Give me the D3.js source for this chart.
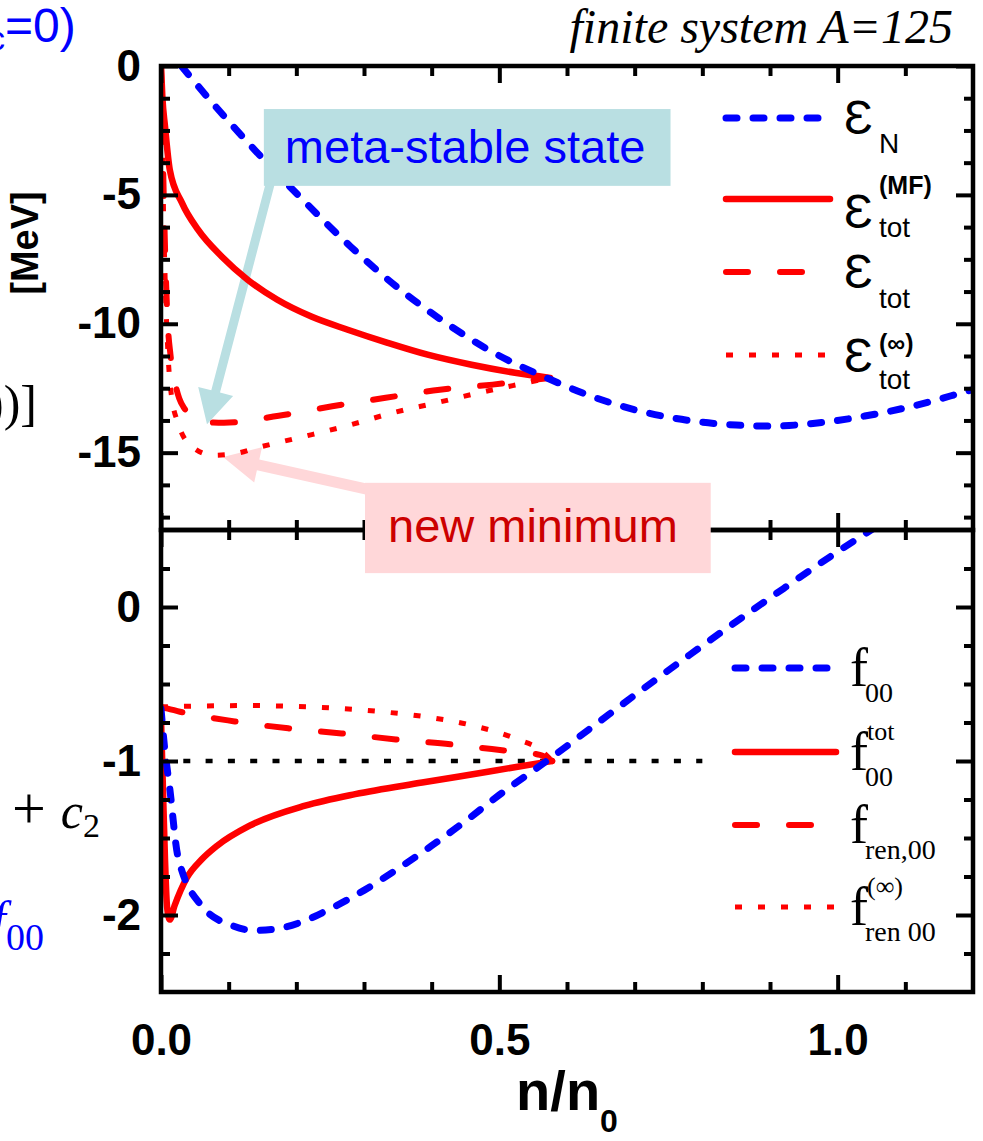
<!DOCTYPE html>
<html>
<head>
<meta charset="utf-8">
<script src="https://cdn.jsdelivr.net/npm/d3@7"></script>
<style>
  body { margin: 0; background: #fff; }
  svg { display: block; }
  text { font-family: "Liberation Sans", Arial, sans-serif; }
</style>
</head>
<body>
<div id="chart"></div>
<script>
// ---- data ----
// upper panel: energies [MeV] vs n/n0
var eNn = [0.03, 0.075, 0.14, 0.21, 0.28, 0.35, 0.42, 0.49, 0.57, 0.64, 0.71, 0.78, 0.85, 0.9, 0.97, 1.04, 1.11, 1.18, 1.2];
var eNv = [0, -1.4, -3.3, -5.2, -7.0, -8.6, -9.95, -11.1, -12.1, -12.85, -13.4, -13.75, -13.93, -13.97, -13.85, -13.58, -13.2, -12.7, -12.55];

var eMFn = [0, 0.002, 0.006, 0.013, 0.031, 0.055, 0.09, 0.128, 0.172, 0.223, 0.276, 0.335, 0.394, 0.459, 0.523, 0.575];
var eMFv = [0, -1.2, -2.36, -4.03, -5.31, -6.36, -7.4, -8.29, -9.07, -9.73, -10.23, -10.74, -11.2, -11.59, -11.9, -12.1];

var eTotn = [0, 0.002, 0.004, 0.007, 0.01, 0.014, 0.02, 0.027, 0.035, 0.05, 0.07, 0.093, 0.174, 0.253, 0.332, 0.412, 0.49, 0.575];
var eTotv = [0, -2.5, -5, -8, -10, -11.2, -12.2, -12.9, -13.3, -13.65, -13.82, -13.84, -13.57, -13.2, -12.87, -12.56, -12.36, -12.1];

var eInfn = [0, 0.002, 0.004, 0.007, 0.01, 0.015, 0.025, 0.046, 0.077, 0.109, 0.143, 0.21, 0.276, 0.343, 0.408, 0.476, 0.54, 0.575];
var eInfv = [0, -3, -6, -9, -11, -12.7, -13.84, -14.77, -15.1, -15.04, -14.8, -14.38, -13.95, -13.45, -13.06, -12.64, -12.29, -12.1];

// lower panel: Landau parameters vs n/n0
var f00n = [0, 0.005, 0.013, 0.025, 0.06, 0.106, 0.136, 0.171, 0.205, 0.25, 0.3, 0.35, 0.4, 0.45, 0.5, 0.57, 0.64, 0.71, 0.78, 0.85, 0.92, 0.99, 1.06, 1.1];
var f00v = [-0.66, -0.9, -1.18, -1.62, -1.94, -2.07, -2.1, -2.09, -2.05, -1.96, -1.84, -1.7, -1.55, -1.39, -1.22, -1.0, -0.77, -0.54, -0.315, -0.095, 0.12, 0.33, 0.53, 0.64];

var fTotn = [0, 0.003, 0.006, 0.009, 0.013, 0.02, 0.038, 0.06, 0.083, 0.131, 0.213, 0.287, 0.386, 0.483, 0.578];
var fTotv = [-0.72, -1.2, -1.65, -1.95, -2.03, -1.94, -1.76, -1.64, -1.55, -1.42, -1.29, -1.215, -1.14, -1.07, -1.0];

var fRenn = [0, 0.01, 0.028, 0.109, 0.188, 0.267, 0.347, 0.428, 0.507, 0.56, 0.578];
var fRenv = [-0.65, -0.66, -0.68, -0.743, -0.788, -0.821, -0.86, -0.892, -0.932, -0.96, -1.0];

var fInfn = [0, 0.01, 0.062, 0.128, 0.195, 0.26, 0.326, 0.394, 0.461, 0.527, 0.563, 0.578];
var fInfv = [-0.65, -0.648, -0.643, -0.64, -0.645, -0.658, -0.68, -0.715, -0.77, -0.86, -0.935, -1.0];

var refLineN = [0, 0.8];
var refLineV = [-1, -1];

// ticks
var xMajor = [0, 0.5, 1.0];
var xMinor = [0.1, 0.2, 0.3, 0.4, 0.6, 0.7, 0.8, 0.9, 1.1];
var topMajor = [0, -5, -10, -15];
var topMinor = [-1.25, -2.5, -3.75, -6.25, -7.5, -8.75, -11.25, -12.5, -13.75, -16.25, -17.5];
var botMajor = [0, -1, -2];
var botMinor = [0.25, -0.25, -0.5, -0.75, -1.25, -1.5, -1.75, -2.25];

// ---- chart ----
var svg = d3.select("#chart").append("svg")
  .attr("width", 983)
  .attr("height", 1141);

var left = 161, right = 973, top0 = 66, mid = 530, bottom = 992;

var xScale = d3.scaleLinear().domain([0, 1.2]).range([left, right]);
var yTop = d3.scaleLinear().domain([-18, 0]).range([mid, top0]);
var yBot = d3.scaleLinear().domain([-2.5, 0.5]).range([bottom, mid]);

var defs = svg.append("defs");
defs.append("clipPath").attr("id", "clipTop").append("rect")
  .attr("x", left).attr("y", top0).attr("width", right - left).attr("height", mid - top0);
defs.append("clipPath").attr("id", "clipBot").append("rect")
  .attr("x", left).attr("y", mid).attr("width", right - left).attr("height", bottom - mid);

function zip(a, b) { return a.map(function(d, i) { return [d, b[i]]; }); }

var styles = {
  blue:   { stroke: "#0000ff", width: 7, dash: "11,16", cap: "round" },
  solid:  { stroke: "#ff0000", width: 6.5, dash: null, cap: "round" },
  dashed: { stroke: "#ff0000", width: 6, dash: "22,32", cap: "round" },
  dotted: { stroke: "#ff0000", width: 5, dash: "7,16", cap: "butt" },
  black:  { stroke: "#000000", width: 4.5, dash: "7,15.3", cap: "butt" }
};

var topSeries = [
  { pts: zip(eInfn, eInfv), st: "dotted" },
  { pts: zip(eTotn, eTotv), st: "dashed" },
  { pts: zip(eMFn, eMFv), st: "solid" },
  { pts: zip(eNn, eNv), st: "blue" }
];
var botSeries = [
  { pts: zip(refLineN, refLineV), st: "black", linear: true },
  { pts: zip(fInfn, fInfv), st: "dotted" },
  { pts: zip(fRenn, fRenv), st: "dashed" },
  { pts: zip(fTotn, fTotv), st: "solid" },
  { pts: zip(f00n, f00v), st: "blue" }
];

// annotation arrows go under the curves
function arrowPath(sx, sy, tx, ty, shaftW, headL, headW) {
  var dx = tx - sx, dy = ty - sy, L = Math.sqrt(dx * dx + dy * dy);
  var ux = dx / L, uy = dy / L, nx = -uy, ny = ux;
  var bx = tx - ux * headL, by = ty - uy * headL;
  var p = [
    [sx + nx * shaftW / 2, sy + ny * shaftW / 2],
    [bx + nx * shaftW / 2, by + ny * shaftW / 2],
    [bx + nx * headW / 2, by + ny * headW / 2],
    [tx, ty],
    [bx - nx * headW / 2, by - ny * headW / 2],
    [bx - nx * shaftW / 2, by - ny * shaftW / 2],
    [sx - nx * shaftW / 2, sy - ny * shaftW / 2]
  ];
  return "M" + p.map(function(q) { return q[0].toFixed(1) + "," + q[1].toFixed(1); }).join("L") + "Z";
}

var teal = "#b9dfe2", pink = "#ffd7d9";
svg.append("path")
  .attr("d", arrowPath(xScale(0.162), yTop(-4.5), xScale(0.068), yTop(-13.9), 9, 34, 36))
  .attr("fill", teal);
svg.append("path")
  .attr("d", arrowPath(xScale(0.37), yTop(-16.8), xScale(0.0916), yTop(-15.17), 11, 36, 36))
  .attr("fill", pink);

function drawSeries(list, yS, clip) {
  var g = svg.append("g").attr("clip-path", "url(#" + clip + ")");
  list.forEach(function(s) {
    var st = styles[s.st];
    var line = d3.line()
      .x(function(d) { return xScale(d[0]); })
      .y(function(d) { return yS(d[1]); })
      .curve(s.linear ? d3.curveLinear : d3.curveMonotoneX);
    g.append("path")
      .datum(s.pts)
      .attr("d", line)
      .attr("fill", "none")
      .attr("stroke", st.stroke)
      .attr("stroke-width", st.width)
      .attr("stroke-linecap", st.cap)
      .attr("stroke-linejoin", "round")
      .attr("stroke-dasharray", st.dash);
  });
}
drawSeries(topSeries, yTop, "clipTop");
drawSeries(botSeries, yBot, "clipBot");

// axes and frame
function styleAxis(g) {
  g.select(".domain").remove();
  g.selectAll(".tick line").attr("stroke", "#000").attr("stroke-width", 4);
  g.selectAll(".tick text")
    .attr("fill", "#000")
    .style("font-size", "44px")
    .style("font-weight", "bold");
}

function panelAxes(yS, yMaj, yMin, yTopPx, yBotPx, xLabels) {
  // left
  svg.append("g").attr("transform", "translate(" + left + ",0)")
    .call(d3.axisLeft(yS).tickValues(yMin).tickSize(-9).tickFormat(""))
    .call(styleAxis);
  svg.append("g").attr("transform", "translate(" + left + ",0)")
    .call(d3.axisLeft(yS).tickValues(yMaj).tickSize(-17).tickPadding(20).tickFormat(function(d) { return String(d); }))
    .call(styleAxis);
  // right
  svg.append("g").attr("transform", "translate(" + right + ",0)")
    .call(d3.axisRight(yS).tickValues(yMin).tickSize(-9).tickFormat(""))
    .call(styleAxis);
  svg.append("g").attr("transform", "translate(" + right + ",0)")
    .call(d3.axisRight(yS).tickValues(yMaj).tickSize(-17).tickFormat(""))
    .call(styleAxis);
  // top
  svg.append("g").attr("transform", "translate(0," + yTopPx + ")")
    .call(d3.axisTop(xScale).tickValues(xMinor).tickSize(-10).tickFormat(""))
    .call(styleAxis);
  svg.append("g").attr("transform", "translate(0," + yTopPx + ")")
    .call(d3.axisTop(xScale).tickValues(xMajor).tickSize(-17).tickFormat(""))
    .call(styleAxis);
  // bottom
  svg.append("g").attr("transform", "translate(0," + yBotPx + ")")
    .call(d3.axisBottom(xScale).tickValues(xMinor).tickSize(-10).tickFormat(""))
    .call(styleAxis);
  svg.append("g").attr("transform", "translate(0," + yBotPx + ")")
    .call(d3.axisBottom(xScale).tickValues(xMajor).tickSize(-17).tickPadding(32)
      .tickFormat(xLabels ? d3.format(".1f") : ""))
    .call(styleAxis);
  svg.append("rect")
    .attr("x", left).attr("y", yTopPx)
    .attr("width", right - left).attr("height", yBotPx - yTopPx)
    .attr("fill", "none").attr("stroke", "#000").attr("stroke-width", 4.5);
}
panelAxes(yTop, topMajor, topMinor, top0, mid, false);
panelAxes(yBot, botMajor, botMinor, mid, bottom, true);

// annotation boxes
svg.append("rect")
  .attr("x", xScale(0.152)).attr("y", yTop(-1.67))
  .attr("width", xScale(0.753) - xScale(0.152)).attr("height", yTop(-4.65) - yTop(-1.67))
  .attr("fill", teal);
svg.append("text")
  .attr("x", xScale(0.152) + 21).attr("y", yTop(-3.76))
  .attr("fill", "#0000ff").style("font-size", "47px")
  .text("meta-stable state");

svg.append("rect")
  .attr("x", xScale(0.3015)).attr("y", yTop(-16.17))
  .attr("width", xScale(0.8124) - xScale(0.3015)).attr("height", yBot(0.22) - yTop(-16.17))
  .attr("fill", pink);
svg.append("text")
  .attr("x", xScale(0.3015) + 23).attr("y", 542)
  .attr("fill", "#cc0000").style("font-size", "47px")
  .text("new minimum");

// legends
function legendLine(x1, x2, y, st) {
  var s = styles[st];
  svg.append("line")
    .attr("x1", x1).attr("x2", x2).attr("y1", y).attr("y2", y)
    .attr("stroke", s.stroke).attr("stroke-width", s.width)
    .attr("stroke-linecap", s.cap).attr("stroke-dasharray", s.dash);
}

var topLegend = [
  { y: 118, st: "blue", base: 134, sub: "N", subY: 153, sup: null },
  { y: 199, st: "solid", base: 228, sub: "tot", subY: 237, sup: "(MF)", supY: 194 },
  { y: 272, st: "dashed", base: 288, sub: "tot", subY: 308, sup: null },
  { y: 355, st: "dotted", base: 372, sub: "tot", subY: 389, sup: "(\u221e)", supY: 352 }
];
topLegend.forEach(function(r) {
  legendLine(726, 830, r.y, r.st);
  svg.append("text").attr("x", 844).attr("y", r.base)
    .style("font-size", "48px").text("\u0190");
  svg.append("text").attr("x", 879).attr("y", r.subY)
    .style("font-size", "28px").text(r.sub);
  if (r.sup) {
    svg.append("text").attr("x", 879).attr("y", r.supY)
      .style("font-size", "25px").style("font-weight", "bold").text(r.sup);
  }
});

var botLegend = [
  { y: 668, st: "blue", sub: "00", sup: null },
  { y: 752, st: "solid", sub: "00", sup: "tot" },
  { y: 825, st: "dashed", sub: "ren,00", sup: null },
  { y: 907, st: "dotted", sub: "ren 00", sup: "(\u221e)" }
];
var serif = "'Liberation Serif', 'Times New Roman', serif";
botLegend.forEach(function(r) {
  legendLine(735, 836, r.y, r.st);
  svg.append("text").attr("x", 850).attr("y", r.y + 18)
    .style("font-family", serif).style("font-size", "54px").text("f");
  svg.append("text").attr("x", 865).attr("y", r.y + 34)
    .style("font-family", serif).style("font-size", "28px").text(r.sub);
  if (r.sup) {
    svg.append("text").attr("x", 867).attr("y", r.y - 12)
      .style("font-family", serif).style("font-size", "26px").text(r.sup);
  }
});

// titles and labels
svg.append("text")
  .attr("x", 953).attr("y", 43)
  .attr("text-anchor", "end")
  .style("font-family", serif).style("font-style", "italic").style("font-size", "48px")
  .text("finite system A=125");

svg.append("text")
  .attr("transform", "translate(38,243) rotate(-90)")
  .attr("text-anchor", "middle")
  .style("font-size", "38px").style("font-weight", "bold")
  .text("[MeV]");

var xl = svg.append("text")
  .attr("x", 567).attr("y", 1110)
  .attr("text-anchor", "middle")
  .style("font-size", "56px").style("font-weight", "bold");
xl.append("tspan").text("n/n");
xl.append("tspan").attr("dy", 22).style("font-size", "32px").text("0");

// fragments of neighbouring text cut off at the left edge
var t1 = svg.append("text").attr("x", -12).attr("y", 42).attr("fill", "#0000ff");
t1.append("tspan").attr("dy", 8).style("font-size", "34px").text("c");
t1.append("tspan").attr("dy", -8).style("font-size", "48px").text("=0)");

svg.append("text")
  .attr("x", 37).attr("y", 420).attr("text-anchor", "end")
  .style("font-family", serif).style("font-size", "50px")
  .text(")))]");

var t3 = svg.append("text").attr("x", 100).attr("y", 828).attr("text-anchor", "end")
  .style("font-family", serif);
t3.append("tspan").style("font-size", "60px").text("+ ");
t3.append("tspan").style("font-size", "50px").style("font-style", "italic").text("c");
t3.append("tspan").attr("dy", 9).style("font-size", "34px").text("2");

var t4 = svg.append("text").attr("x", 44).attr("y", 950).attr("text-anchor", "end")
  .style("font-family", serif).attr("fill", "#0000ff");
t4.append("tspan").attr("dy", -14).style("font-size", "50px").style("font-style", "italic").text("f");
t4.append("tspan").attr("dy", 14).style("font-size", "38px").text("00");
</script>
</body>
</html>
